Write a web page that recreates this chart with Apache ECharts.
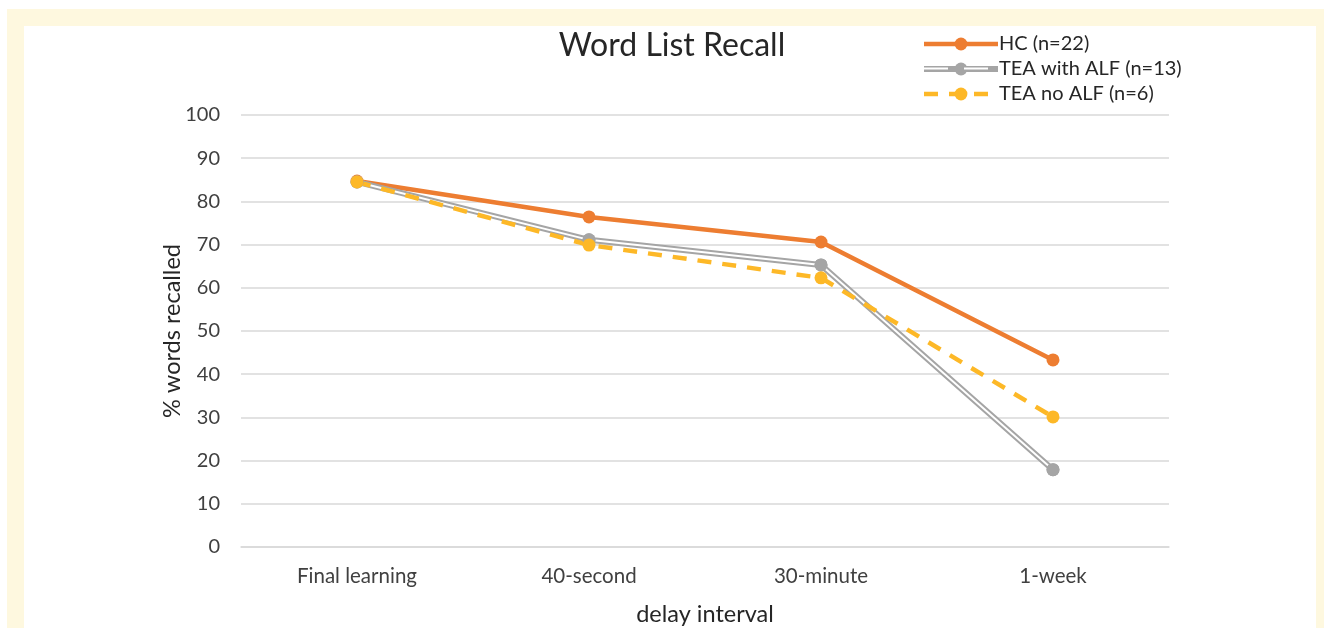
<!DOCTYPE html>
<html>
<head>
<meta charset="utf-8">
<script src="https://cdn.jsdelivr.net/npm/echarts@6/dist/echarts.min.js"></script>
<style>
  html, body { margin: 0; padding: 0; background: #ffffff; }
  #frame { position: absolute; left: 7px; top: 9px; right: 0; bottom: 0; background: #FEF8DF; }
  #inner { position: absolute; left: 24px; top: 26px; right: 8px; bottom: 0; background: #ffffff; }
  #chart { position: absolute; left: 0; top: 0; width: 1324px; height: 628px; }
</style>
</head>
<body>
<div id="frame"></div>
<div id="inner"></div>
<div id="chart"></div>
<script>
const categories = ['Final learning', '40-second', '30-minute', '1-week'];
const hcValues = [84.7, 76.4, 70.6, 43.3];
const teaAlfValues = [84.5, 71.1, 65.3, 17.9];
const teaNoAlfValues = [84.5, 69.9, 62.3, 30.1];
const seriesNames = ['HC (n=22)', 'TEA with ALF (n=13)', 'TEA no ALF (n=6)'];
const yTicks = { min: 0, max: 100, interval: 10 };

const FONT = 'Lato, "Open Sans", sans-serif';
const ORANGE = '#ED7D31', GRAY = '#A5A5A5', YELLOW = '#FDB827';

const chart = echarts.init(document.getElementById('chart'), null, { renderer: 'canvas' });
chart.setOption({
  backgroundColor: 'transparent',
  animation: false,
  title: {
    text: 'Word List Recall',
    left: 667, top: 25, textAlign: 'center',
    textStyle: { fontFamily: FONT, fontSize: 32, fontWeight: 'normal', color: '#262626' }
  },
  legend: {
    orient: 'vertical',
    left: 916, top: 29,
    itemWidth: 74, itemHeight: 16, itemGap: 5,
    symbolSize: 14,
    data: [
      { name: seriesNames[0], lineStyle: { width: 4.5 } },
      { name: seriesNames[1], lineStyle: { width: 6 } },
      { name: seriesNames[2], lineStyle: { width: 4.5 } }
    ],
    textStyle: { fontFamily: FONT, fontSize: 20, color: '#262626', padding: [0, 0, 0, -4] }
  },
  graphic: [
    { type: 'line', z: 100, shape: { x1: 919, y1: 68.5, x2: 948, y2: 68.5 }, style: { stroke: '#ffffff', lineWidth: 2 } },
    { type: 'line', z: 100, shape: { x1: 964, y1: 68.5, x2: 988, y2: 68.5 }, style: { stroke: '#ffffff', lineWidth: 2 } }
  ],
  grid: { left: 241, right: 155, top: 115, bottom: 81, containLabel: false, outerBoundsMode: 'none' },
  xAxis: {
    type: 'category',
    data: categories,
    boundaryGap: true,
    axisLine: { show: true, lineStyle: { color: '#D9D9D9', width: 1.5 } },
    axisTick: { show: false },
    axisLabel: { fontFamily: FONT, fontSize: 20.5, color: '#404040', margin: 19 },
    name: 'delay interval',
    nameLocation: 'middle',
    nameGap: 55,
    nameMoveOverlap: false,
    nameTextStyle: { fontFamily: FONT, fontSize: 23.5, color: '#262626' }
  },
  yAxis: {
    type: 'value',
    min: yTicks.min, max: yTicks.max, interval: yTicks.interval,
    axisLine: { show: false },
    axisTick: { show: false },
    splitLine: { lineStyle: { color: '#D9D9D9', width: 1.5 } },
    axisLabel: { fontFamily: FONT, fontSize: 20, color: '#404040', margin: 21 },
    name: '% words recalled',
    nameLocation: 'middle',
    nameGap: 57,
    nameMoveOverlap: false,
    nameTextStyle: { fontFamily: FONT, fontSize: 23.5, color: '#262626' }
  },
  series: [
    {
      name: seriesNames[0], type: 'line', data: hcValues,
      symbol: 'circle', symbolSize: 13,
      lineStyle: { color: ORANGE, width: 4.5 },
      itemStyle: { color: ORANGE }
    },
    {
      name: seriesNames[1], type: 'line', data: teaAlfValues,
      symbol: 'circle', symbolSize: 13,
      lineStyle: { color: GRAY, width: 6 },
      itemStyle: { color: GRAY }
    },
    {
      name: 'overlay', type: 'line', data: teaAlfValues,
      symbol: 'circle', symbolSize: 13,
      lineStyle: { color: '#ffffff', width: 2 },
      itemStyle: { color: GRAY }
    },
    {
      name: seriesNames[2], type: 'line', data: teaNoAlfValues,
      symbol: 'circle', symbolSize: 13,
      lineStyle: { color: YELLOW, width: 4.5, type: [14, 11] },
      itemStyle: { color: YELLOW }
    }
  ]
});
</script>
</body>
</html>
